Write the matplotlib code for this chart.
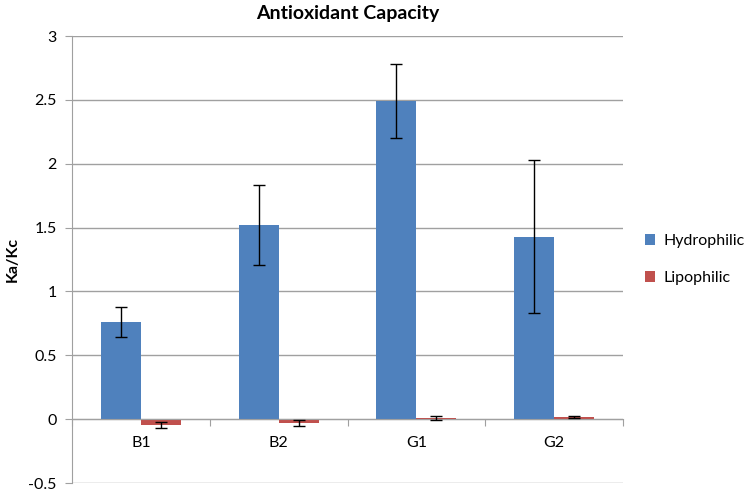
import matplotlib.pyplot as plt
import numpy as np

plt.rcParams['font.family'] = ['Lato', 'DejaVu Sans']

# data
groups = ['B1', 'B2', 'G1', 'G2']
hydro = [0.76, 1.52, 2.49, 1.43]
hydro_err = [0.12, 0.31, 0.29, 0.60]
lipo = [-0.045, -0.03, 0.008, 0.018]
lipo_err = [0.025, 0.02, 0.018, 0.01]

fig = plt.figure(figsize=(7.51, 4.98), dpi=100)
ax = fig.add_axes([0.0959, 0.0301, 0.7337, 0.8976])

x = np.arange(len(groups))
w = 0.29
ax.bar(x - w / 2, hydro, w, color='#4F81BD', label='Hydrophilic', zorder=2)
ax.bar(x + w / 2, lipo, w, color='#C0504D', label='Lipophilic', zorder=2)
ax.errorbar(x - w / 2, hydro, yerr=hydro_err, fmt='none', ecolor='black',
            elinewidth=1, capsize=4, capthick=1, zorder=3)
ax.errorbar(x + w / 2, lipo, yerr=lipo_err, fmt='none', ecolor='black',
            elinewidth=1, capsize=4, capthick=1, zorder=3)

ax.set_xlim(-0.5, len(groups) - 0.5)
ax.set_ylim(-0.5, 3)
ax.set_yticks(np.arange(-0.5, 3.01, 0.5))
ax.set_yticklabels(['-0.5', '0', '0.5', '1', '1.5', '2', '2.5', '3'])
ax.yaxis.grid(True, color='#a0a0a0', linewidth=1)
ax.set_axisbelow(True)

# category axis sits at zero
ax.spines['bottom'].set_position(('data', 0))
for s in ['top', 'right']:
    ax.spines[s].set_visible(False)
ax.spines['bottom'].set_color('#a0a0a0')
ax.spines['left'].set_color('#a0a0a0')
ax.set_xticks(np.arange(-0.5, len(groups), 1.0))
ax.set_xticklabels([])
ax.set_xticks(x, minor=True)
ax.set_xticklabels(groups, minor=True)
ax.tick_params(axis='x', which='major', length=5, color='#a0a0a0')
ax.tick_params(axis='x', which='minor', length=0, pad=12, labelsize=11.5)
ax.tick_params(axis='y', length=5, color='#a0a0a0', labelsize=11.5, pad=6)

ax.set_ylabel('Ka/Kc', fontsize=11.5, fontweight='bold', labelpad=6)
ax.set_title('Antioxidant Capacity', fontsize=14, fontweight='bold', pad=12)

ax.legend(loc='center left', bbox_to_anchor=(1.013, 0.5), frameon=False,
          fontsize=11.5, handlelength=0.68, handleheight=0.68, handletextpad=0.5,
          labelspacing=1.45)

fig.savefig('out.png', dpi=100)
